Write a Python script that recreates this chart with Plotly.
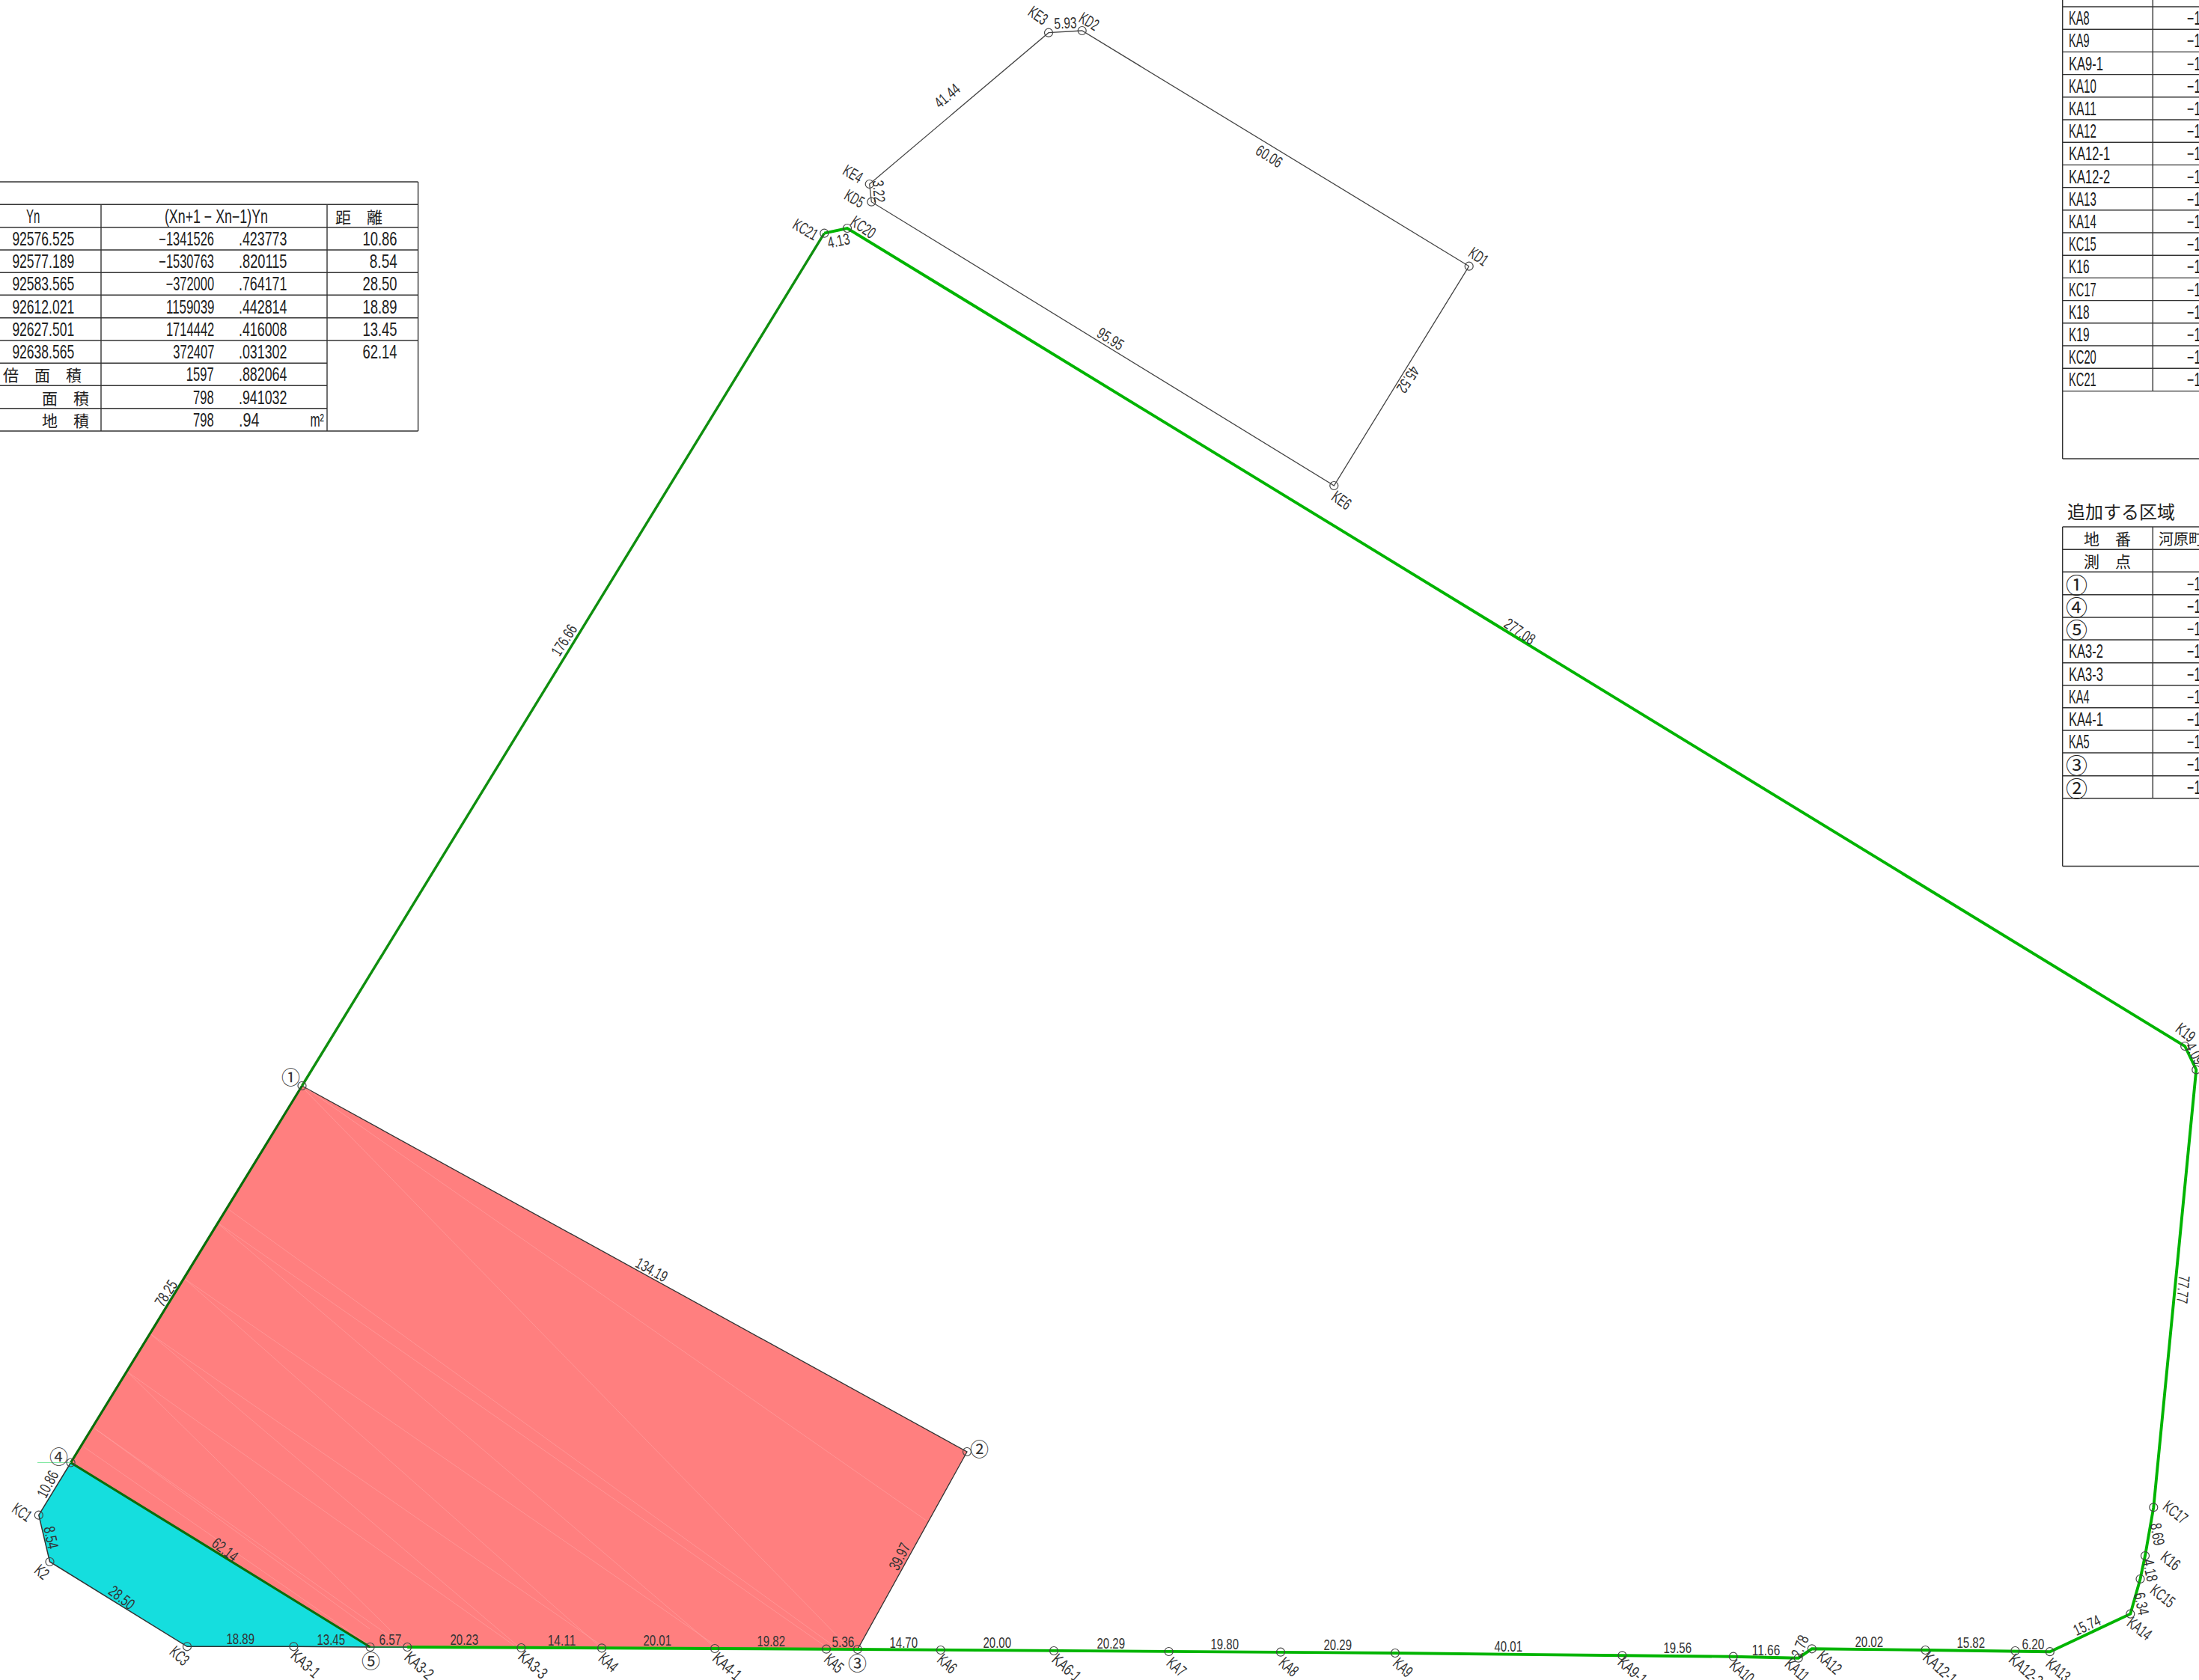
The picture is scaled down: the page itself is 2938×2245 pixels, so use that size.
import plotly.graph_objects as go

W, H = 2938, 2245
LATIN = "Liberation Sans, sans-serif"
CJK = "Noto Sans CJK JP, sans-serif"
INK = "#333333"

# ---- survey points (sheet coordinates) ----
P = {
    "1": (403.5, 1451), "4": (94.6, 1954.5), "5": (494.6, 2201), "3": (1145.8, 2204), "2": (1292, 1940),
    "KC1": (51.8, 2024.7), "K2": (66.5, 2087), "KC3": (250, 2200.3), "KA3-1": (392.4, 2200.3),
    "KA3-2": (544.2, 2201), "KA3-3": (696.4, 2202), "KA4": (804, 2202.3), "KA4-1": (955, 2203),
    "KA5": (1104, 2203.7), "KA6": (1256.8, 2205), "KA6-1": (1408, 2206), "KA7": (1561.6, 2207),
    "KA8": (1711, 2207.7), "KA9": (1864, 2209), "KA9-1": (2167.4, 2212.3), "KA10": (2315.8, 2213.7),
    "KA11": (2402.7, 2215.7), "KA12": (2420.8, 2203.3), "KA12-1": (2572.4, 2205), "KA12-2": (2692.4, 2206),
    "KA13": (2738.8, 2207.2), "KA14": (2846.3, 2156.7), "KC15": (2859.5, 2110), "K16": (2866, 2079),
    "KC17": (2877.3, 2014.3), "K18": (2934.3, 1429.5), "K19": (2919.2, 1398),
    "KC20": (1132, 305), "KC21": (1101.3, 311.7),
    "KD1": (1962.7, 355.7), "KD2": (1445.7, 41), "KE3": (1401, 43.7), "KE4": (1161.7, 246),
    "KD5": (1164.3, 269.7), "KE6": (1782.3, 649),
}
red_zone = ["1", "4", "5", "KA3-2", "KA3-3", "KA4", "KA4-1", "KA5", "3", "2"]
cyan_zone = ["4", "KC1", "K2", "KC3", "KA3-1", "5"]
upper_lot = ["KD1", "KD2", "KE3", "KE4", "KD5", "KE6", "KD1"]
green_path = ["KA3-2", "KA3-3", "KA4", "KA4-1", "KA5", "3", "KA6", "KA6-1", "KA7", "KA8", "KA9", "KA9-1",
              "KA10", "KA11", "KA12", "KA12-1", "KA12-2", "KA13", "KA14", "KC15", "K16", "KC17", "K18",
              "K19", "KC20", "KC21"]
mid_green_path = ["KC21", "1"]
dark_green_path = ["1", "4", "5"]

# faint seams inside the red polygon
seam_x = [405.7, 1133, None, 409.7, 1237.6, None, 305, 1113, None, 293, 1101, None, 293, 952, None,
          246.5, 956, None, 246.5, 799.5, None, 200.7, 803.6, None, 200.7, 691, None, 170, 687, None,
          170, 542.3, None, 126.7, 538.3, None, 126.7, 494, None, 112, 494]
seam_y = [1454.7, 2201, None, 1454.7, 2031.9, None, 1615.8, 2198.8, None, 1635.5, 2198.8, None, 1636.5, 2198.8, None,
          1708.7, 2198.8, None, 1708.7, 2198.8, None, 1782.3, 2198.8, None, 1782.3, 2198.8, None, 1833, 2198.8, None,
          1833, 2198.8, None, 1909, 2198.8, None, 1909, 2176.7, None, 1933.6, 2198.8]

# ---- distance labels: text, x, y, angle ----
dist_labels = [
    ("10.86", 63.8, 1982.7, -62), ("8.54", 69, 2054, 78), ("28.50", 163, 2134, 38), ("18.89", 321, 2189, 0),
    ("13.45", 442, 2190, 0), ("6.57", 521, 2190, 0), ("20.23", 620.5, 2190.7, 0), ("62.14", 301, 2070, 38),
    ("14.11", 750, 2191, 0), ("20.01", 878.6, 2191.7, 0), ("19.82", 1030, 2192.3, 0), ("5.36", 1126.7, 2193.3, 0),
    ("14.70", 1207.7, 2194.3, 0), ("20.00", 1332.7, 2194.7, 0), ("20.29", 1484.4, 2195.7, 0), ("19.80", 1636.9, 2196.7, 0),
    ("20.29", 1787.6, 2197.7, 0), ("40.01", 2015.8, 2199.3, 0), ("19.56", 2241.6, 2201.7, 0), ("11.66", 2359.2, 2204, 0),
    ("2.78", 2404, 2200, -68), ("20.02", 2497.4, 2193.3, 0), ("15.82", 2633.2, 2194.3, 0), ("6.20", 2716, 2196, 0),
    ("15.74", 2788.3, 2171.7, -25), ("6.34", 2861.7, 2143.3, 78), ("4.18", 2873.3, 2098.3, 78), ("8.69", 2883.3, 2050, 80),
    ("77.77", 2917.3, 1723.3, 95), ("4.09", 2933, 1407, 62), ("277.08", 2031, 843, 34.5), ("176.66", 753, 855, -57),
    ("4.13", 1120, 321.7, -12), ("78.25", 221, 1728, -57), ("134.19", 871, 1696, 29), ("39.97", 1201, 2080, -63),
    ("95.95", 1484, 452, 32), ("60.06", 1696, 208, 32), ("41.44", 1265.7, 127.7, -40), ("5.93", 1423, 30.7, -3),
    ("3.22", 1174.3, 255.7, 85), ("45.52", 1881.7, 508, 123),
]
# ---- point labels: text, x, y, angle ----
point_labels = [
    ("KC1", 29, 2020.7, 35), ("K2", 56, 2100, 40), ("KC3", 240, 2212, 42), ("KA3-1", 408.5, 2223, 42),
    ("KA3-2", 560, 2225, 42), ("KA3-3", 712, 2224, 42), ("KA4", 813, 2221.7, 42), ("KA4-1", 971, 2226.7, 42),
    ("KA5", 1114.5, 2222, 42), ("KA6", 1266, 2223, 42), ("KA6-1", 1425, 2228, 42), ("KA7", 1572, 2227.7, 42),
    ("KA8", 1722, 2227.7, 42), ("KA9", 1875, 2228, 42), ("KA9-1", 2181.6, 2232, 42), ("KA10", 2327.7, 2233, 42),
    ("KA11", 2401, 2231.7, 42), ("KA12", 2444.5, 2221, 42), ("KA12-1", 2592, 2228, 42), ("KA12-2", 2706.7, 2231.7, 42),
    ("KA13", 2750, 2231.7, 42), ("KA14", 2859, 2176, 38), ("KC15", 2889.3, 2132.7, 38), ("K16", 2900, 2085, 38),
    ("KC17", 2906, 2020.7, 38), ("K19", 2920, 1379, 38), ("KC20", 1153.3, 303.3, 35), ("KC21", 1076, 306, 30),
    ("KE3", 1386.7, 20.7, 35), ("KD2", 1455, 28, 30), ("KE4", 1140, 232, 30), ("KD5", 1141.7, 265.7, 30),
    ("KD1", 1975, 342.7, 35), ("KE6", 1792.7, 668, 35),
]
circled_labels = [("①", 388, 1438), ("②", 1308, 1935), ("③", 1145.8, 2221), ("④", 78.6, 1945), ("⑤", 495.5, 2218)]

# ---- left table ----
lt_col = [135, 437, 558.6]
lt_row = [243, 273.3, 303.7, 334, 364.3, 394.3, 424.7, 455, 485.3, 515.3, 545.7, 576]
lt_yn = ["92576.525", "92577.189", "92583.565", "92612.021", "92627.501", "92638.565"]
lt_int = ["−1341526", "−1530763", "−372000", "1159039", "1714442", "372407", "1597", "798", "798"]
lt_dec = [".423773", ".820115", ".764171", ".442814", ".416008", ".031302", ".882064", ".941032", ".94"]
lt_dist = ["10.86", "8.54", "28.50", "18.89", "13.45", "62.14"]

# ---- right tables ----
rt_left, rt_col = 2755.7, 2876.3
rt1_names = ["KA7", "KA8", "KA9", "KA9-1", "KA10", "KA11", "KA12", "KA12-1", "KA12-2", "KA13", "KA14",
             "KC15", "K16", "KC17", "K18", "K19", "KC20", "KC21"]
rt1_rows = [9, 39.2, 69.4, 99.6, 129.8, 160, 190.2, 220.4, 250.6, 280.8, 311, 341.2, 371.4, 401.6, 431.8, 462, 492.2, 522.6]
rt1_bottom = 613
rt2_names = ["①", "④", "⑤", "KA3-2", "KA3-3", "KA4", "KA4-1", "KA5", "③", "②"]
rt2_rows = [704, 734.3, 764.3, 794.7, 825, 855, 885.7, 915.7, 945.7, 976, 1006, 1036.7, 1066.7]
rt2_bottom = 1157.5


def xy(names):
    return [P[n][0] for n in names], [P[n][1] for n in names]


fig = go.Figure()

x, y = xy(red_zone + red_zone[:1])
fig.add_trace(go.Scatter(x=x, y=y, mode="lines", fill="toself", fillcolor="#FF7F7F", line=dict(color="#333333", width=1.3)))
fig.add_trace(go.Scatter(x=seam_x, y=seam_y, mode="lines", line=dict(color="rgba(255,165,165,0.7)", width=0.8)))
x, y = xy(cyan_zone + cyan_zone[:1])
fig.add_trace(go.Scatter(x=x, y=y, mode="lines", fill="toself", fillcolor="#15DEDE", line=dict(color="#333333", width=1.5)))
x, y = xy(upper_lot)
fig.add_trace(go.Scatter(x=x, y=y, mode="lines", line=dict(color="#444444", width=1.3)))
x, y = xy(green_path)
fig.add_trace(go.Scatter(x=x, y=y, mode="lines", line=dict(color="#00B400", width=3.9)))
x, y = xy(mid_green_path)
fig.add_trace(go.Scatter(x=x, y=y, mode="lines", line=dict(color="#0F8F0F", width=3.4)))
x, y = xy(dark_green_path)
fig.add_trace(go.Scatter(x=x, y=y, mode="lines", line=dict(color="#0A6E0A", width=3.2)))
x, y = xy(["5", "KA3-2"])
fig.add_trace(go.Scatter(x=x, y=y, mode="lines", line=dict(color="#1F7F3F", width=2)))
fig.add_trace(go.Scatter(x=[50, P["4"][0]], y=[P["4"][1], P["4"][1]], mode="lines", line=dict(color="#7FE8A0", width=1)))
x, y = xy(list(P))
fig.add_trace(go.Scatter(x=x, y=y, mode="markers", cliponaxis=False,
                         marker=dict(symbol="circle-open", size=11, color="#444444", line=dict(width=1.2, color="#444444"))))

# table rules
lx, ly = [], []
def rule(x0, y0, x1, y1):
    lx.extend([x0, x1, None])
    ly.extend([y0, y1, None])

rule(0, lt_row[0], lt_col[2], lt_row[0])
for i, r in enumerate(lt_row[1:], 1):
    rule(0, r, lt_col[2] if i <= 7 or i == 11 else lt_col[1], r)
rule(lt_col[0], lt_row[1], lt_col[0], lt_row[-1])
rule(lt_col[1], lt_row[1], lt_col[1], lt_row[-1])
rule(lt_col[2], lt_row[0], lt_col[2], lt_row[-1])

for r in rt1_rows:
    rule(rt_left, r, W, r)
rule(rt_left, rt1_bottom, W, rt1_bottom)
rule(rt_left, 0, rt_left, rt1_bottom)
rule(rt_col, 0, rt_col, rt1_rows[-1])
for r in rt2_rows:
    rule(rt_left, r, W, r)
rule(rt_left, rt2_bottom, W, rt2_bottom)
rule(rt_left, rt2_rows[0], rt_left, rt2_bottom)
rule(rt_col, rt2_rows[0], rt_col, rt2_rows[-1])
fig.add_trace(go.Scatter(x=lx, y=ly, mode="lines", line=dict(color="#333333", width=1.4)))

ann = []
def text(t, x, y, size=20, angle=0, anchor="center", font=LATIN, color=INK, pitch=None):
    d = dict(text=t, x=x, y=y, xref="x", yref="y", showarrow=False, textangle=angle, xanchor=anchor,
             yanchor="middle", font=dict(family=font, size=size, color=color))
    if pitch:
        d["name"] = str(pitch)   # half-width character pitch, applied in the page script
    ann.append(d)

DIM_PITCH, PT_PITCH, TBL_PITCH = 7.5, 8.7, 9.2
for t, lx_, ly_, a in dist_labels:
    text(t, lx_, ly_, size=21, angle=a, pitch=DIM_PITCH)
for t, lx_, ly_, a in point_labels:
    text(t, lx_, ly_, size=22, angle=a, pitch=PT_PITCH)
for t, lx_, ly_ in circled_labels:
    text(t, lx_, ly_, size=25, font=CJK)

def row_c(rows, i):
    return (rows[i] + rows[i + 1]) / 2

TS = 25
DARK = "#222222"
def tbl(t, x, y, anchor="center"):
    text(t, x, y, size=TS, anchor=anchor, color=DARK, pitch=TBL_PITCH)

tbl("Yn", 44, row_c(lt_row, 1))
tbl("(Xn+1 − Xn−1)Yn", 288.6, row_c(lt_row, 1))
text("距　離", 479, row_c(lt_row, 1), size=21, font=CJK, color=DARK)
for i, v in enumerate(lt_yn):
    tbl(v, 101, row_c(lt_row, i + 2), "right")
for i, v in enumerate(lt_dist):
    tbl(v, 533, row_c(lt_row, i + 2), "right")
for i, (a, b) in enumerate(zip(lt_int, lt_dec)):
    tbl(a, 288, row_c(lt_row, i + 2), "right")
    tbl(b, 317, row_c(lt_row, i + 2), "left")
text("倍　面　積", 56, row_c(lt_row, 8), size=21, font=CJK, color=DARK)
text("面　積", 87, row_c(lt_row, 9), size=21, font=CJK, color=DARK)
text("地　積", 87, row_c(lt_row, 10), size=21, font=CJK, color=DARK)
tbl("m²", 423, row_c(lt_row, 10))

for i, n in enumerate(rt1_names):
    cy = rt1_rows[0] + 30.2 * (i - 0.5)
    tbl(n, 2762, cy, "left")
    tbl("−1", 2920, cy, "left")
text("追加する区域", 2760, 682, size=24, anchor="left", font=CJK, color=DARK)
text("地　番", 2815, row_c(rt2_rows, 0), size=21, font=CJK, color=DARK)
text("河原町", 2882, row_c(rt2_rows, 0), size=20, anchor="left", font=CJK, color=DARK)
text("測　点", 2815, row_c(rt2_rows, 1), size=21, font=CJK, color=DARK)
for i, n in enumerate(rt2_names):
    cy = row_c(rt2_rows, i + 2)
    if n in "①②③④⑤":
        text(n, 2758, cy, size=29, anchor="left", font=CJK, color=DARK)
    else:
        tbl(n, 2762, cy, "left")
    tbl("−1", 2920, cy, "left")

fig.update_layout(
    width=W, height=H, margin=dict(l=0, r=0, t=0, b=0), showlegend=False,
    paper_bgcolor="white", plot_bgcolor="white", annotations=ann,
    xaxis=dict(range=[0, W], visible=False, fixedrange=True),
    yaxis=dict(range=[H, 0], visible=False, fixedrange=True),
)

# The sheet lettering is a condensed half-width gothic; no such face is installed, so
# Latin annotations are fitted to that pitch along their baseline, staying real text.
condense = r"""
document.body.style.margin='0';document.body.style.overflow='hidden';
var gd=document.getElementById('{plot_id}');
gd.querySelectorAll('.annotation').forEach(function(g){
  var a=gd.layout.annotations[+g.getAttribute('data-index')];
  var t=g.querySelector('text.annotation-text');
  if(!a||!t||!a.name)return;
  var len=t.getComputedTextLength();
  var target=a.text.length*parseFloat(a.name);
  var d=(len-target)/2;
  t.setAttribute('lengthAdjust','spacingAndGlyphs');
  t.setAttribute('textLength',target);
  var x=parseFloat(t.getAttribute('x'))||0;
  if(a.xanchor==='left')t.setAttribute('x',x-d);
  if(a.xanchor==='right')t.setAttribute('x',x+d);
});
"""
fig.write_html("out.html", post_script=condense, config=dict(displayModeBar=False))
